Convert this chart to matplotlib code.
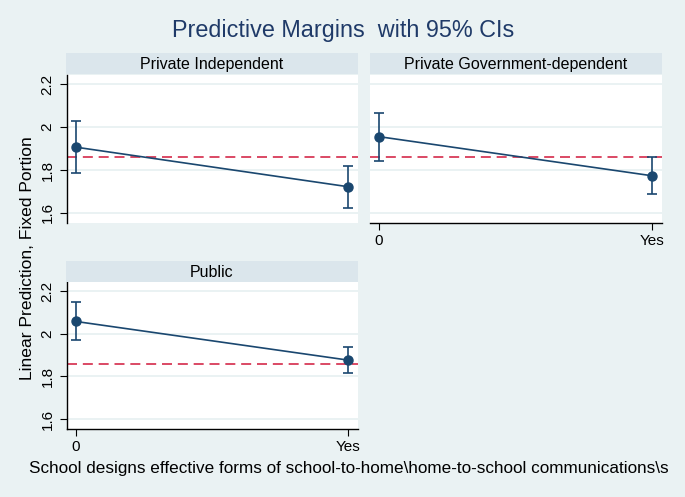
import matplotlib
matplotlib.use("Agg")
import matplotlib.pyplot as plt

# values
panels = ["Private Independent", "Private Government-dependent", "Public"]
x_labels = ["0", "Yes"]
margin = [[1.906, 1.722], [1.955, 1.773], [2.057, 1.876]]
ci_low = [[1.786, 1.625], [1.843, 1.686], [1.969, 1.814]]
ci_high = [[2.026, 1.820], [2.067, 1.859], [2.148, 1.937]]
ref_line = 1.859
y_ticks = [1.6, 1.8, 2.0, 2.2]
y_tick_labels = ["1.6", "1.8", "2", "2.2"]

bg = "#eaf2f3"
strip = "#dbe6ec"
navy = "#1a476f"
red = "#d42a4a"

plt.rcParams['font.family'] = ['Liberation Sans', 'DejaVu Sans']

W, H = 685, 497
fig = plt.figure(figsize=(W / 100, H / 100), dpi=100, facecolor=bg)


def px_rect(x0, y0, x1, y1):
    # pixel box (top-left origin) -> figure fraction
    return [x0 / W, (H - y1) / H, (x1 - x0) / W, (y1 - y0) / H]


# (plot box, header box, show y axis, show x axis)
layout = [
    ((67, 75, 358, 223), (66, 53, 358, 74), True, False),
    ((370, 75, 662, 223), (370, 53, 662, 74), False, True),
    ((67, 282, 358, 429), (66, 261, 358, 282), True, True),
]

for i, (box, head, show_y, show_x) in enumerate(layout):
    ax = fig.add_axes(px_rect(*box))
    ax.set_facecolor("white")
    for side in ["top", "right", "left", "bottom"]:
        ax.spines[side].set_visible(False)

    for t in y_ticks:
        ax.axhline(t, color=bg, lw=1.4, zorder=1)
    ax.axhline(ref_line, color=red, lw=1.2, ls=(0, (6, 3.5)), zorder=2)

    xs = [0, 1]
    ys = margin[i]
    lo = [ys[k] - ci_low[i][k] for k in range(2)]
    hi = [ci_high[i][k] - ys[k] for k in range(2)]
    ax.errorbar(xs, ys, yerr=[lo, hi], color=navy, lw=1.2, marker="o",
                markersize=6.5, capsize=3.5, capthick=1.2, elinewidth=1.2, zorder=3)

    ax.set_xlim(-0.033, 1.037)
    ax.set_ylim(1.553, 2.242)
    ax.set_yticks(y_ticks)
    ax.set_xticks(xs)

    if show_y:
        ax.spines["left"].set_visible(True)
        ax.spines["left"].set_color("black")
        ax.spines["left"].set_linewidth(1.0)
        ax.set_yticklabels(y_tick_labels, rotation=90, va="center", fontsize=11)
        ax.tick_params(axis="y", length=5, width=0.8, pad=4)
    else:
        ax.tick_params(axis="y", length=0, labelleft=False)

    if show_x:
        ax.spines["bottom"].set_visible(True)
        ax.spines["bottom"].set_color("black")
        ax.spines["bottom"].set_linewidth(1.0)
        ax.set_xticklabels(x_labels, fontsize=11)
        ax.tick_params(axis="x", length=5, width=0.8, pad=3)
    else:
        ax.tick_params(axis="x", length=0, labelbottom=False)

    hx = fig.add_axes(px_rect(*head))
    hx.set_facecolor(strip)
    hx.set_xticks([])
    hx.set_yticks([])
    for side in hx.spines.values():
        side.set_visible(False)
    hx.text(0.5, 0.45, panels[i], ha="center", va="center", fontsize=11.5,
            transform=hx.transAxes)

fig.text(343 / W, 1 - 31 / H, "Predictive Margins  with 95% CIs", ha="center",
         va="center", fontsize=16.8, color="#1f3a68")
fig.text(28 / W, 1 - 258 / H, "Linear Prediction, Fixed Portion", ha="center",
         va="center", rotation=90, fontsize=12.6)
fig.text(349 / W, 1 - 469 / H,
         "School designs effective forms of school-to-home\\home-to-school communications\\s",
         ha="center", va="center", fontsize=12.3)

fig.savefig("out.png", dpi=100, facecolor=bg)
